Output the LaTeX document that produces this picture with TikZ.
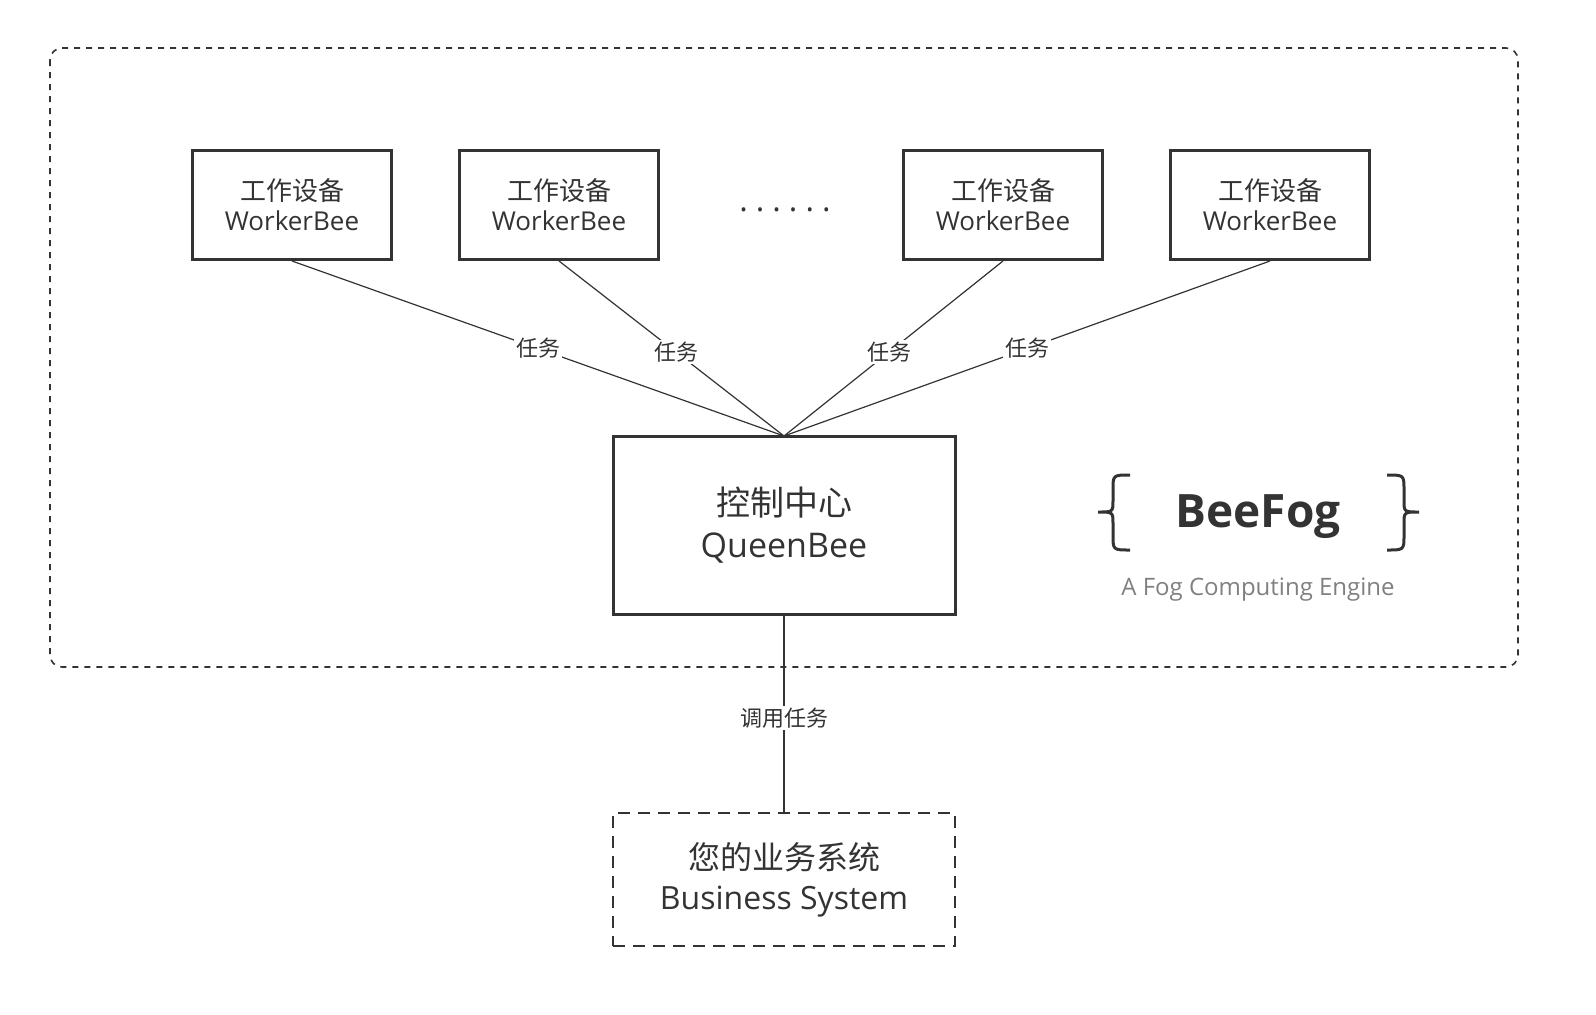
\documentclass[tikz,border=0pt]{standalone}
\usepackage{fontspec}
\setmainfont{Open Sans}
\newfontfamily\cjk{Noto Sans CJK SC}
\definecolor{ink}{HTML}{333333}
\begin{document}
\begin{tikzpicture}[x=0.5pt,y=-0.5pt,
  wbox/.style={draw=ink,line width=1.5pt,minimum width=99.5pt,minimum height=54.5pt,align=center,font=\fontsize{13}{15}\selectfont,text=ink,inner sep=0pt},
  lbl/.style={fill=white,inner sep=1pt,font=\cjk\fontsize{11}{13}\selectfont,text=ink},
  conn/.style={draw=ink,line width=0.6pt}]
\useasboundingbox (0,0) rectangle (1596,1014);
\draw[ink,dashed,line width=0.8pt,rounded corners=6pt] (50,48) rectangle (1518,667);
\node[wbox] (w1) at (292,205) {{\cjk 工作设备}\\WorkerBee};
\node[wbox] (w2) at (559,205) {{\cjk 工作设备}\\WorkerBee};
\node[wbox] (w3) at (1003,205) {{\cjk 工作设备}\\WorkerBee};
\node[wbox] (w4) at (1270,205) {{\cjk 工作设备}\\WorkerBee};
\node[text=ink,font=\fontsize{16}{16}\selectfont] (dots) at (785,210) {.\hspace{4pt}.\hspace{4pt}.\hspace{4pt}.\hspace{4pt}.\hspace{4pt}.};
\node[draw=ink,line width=1.5pt,minimum width=171pt,minimum height=89pt,align=center,inner sep=0pt,text=ink,font=\fontsize{17}{21}\selectfont] (q) at (784,525) {{\cjk 控制中心}\\QueenBee};
\coordinate (qt) at (784,436);
\draw[conn] (w1.south) -- node[lbl,pos=0.5]{任务} (qt);
\draw[conn] (w2.south) -- node[lbl,pos=0.52]{任务} (qt);
\draw[conn] (w3.south) -- node[lbl,pos=0.52]{任务} (qt);
\draw[conn] (w4.south) -- node[lbl,pos=0.5]{任务} (qt);
\node[draw=ink,dashed,line width=0.8pt,dash pattern=on 6pt off 4pt,minimum width=171pt,minimum height=66.5pt,align=center,inner sep=0pt,text=ink,font=\fontsize{16}{20}\selectfont] (b) at (784,879.5) {{\cjk 您的业务系统}\\Business System};
\draw[conn] (q.south) -- node[lbl,pos=0.52]{调用任务} (b.north);
\node[text=ink,font=\bfseries\fontsize{23}{23}\selectfont] (bf) at (1258,517) {BeeFog};
\draw[ink,line width=1.5pt] (1130,475) .. controls (1113,475) .. (1113,490) -- (1113,500) .. controls (1113,512) .. (1098,512) .. controls (1113,512) .. (1113,524) -- (1113,535) .. controls (1113,550) .. (1130,550);
\draw[ink,line width=1.5pt] (1387,475) .. controls (1404,475) .. (1404,490) -- (1404,500) .. controls (1404,512) .. (1419,512) .. controls (1404,512) .. (1404,524) -- (1404,535) .. controls (1404,550) .. (1387,550);
\node[text=gray,font=\fontsize{12}{12}\selectfont] (sub) at (1258,590) {A Fog Computing Engine};
\end{tikzpicture}
\end{document}
